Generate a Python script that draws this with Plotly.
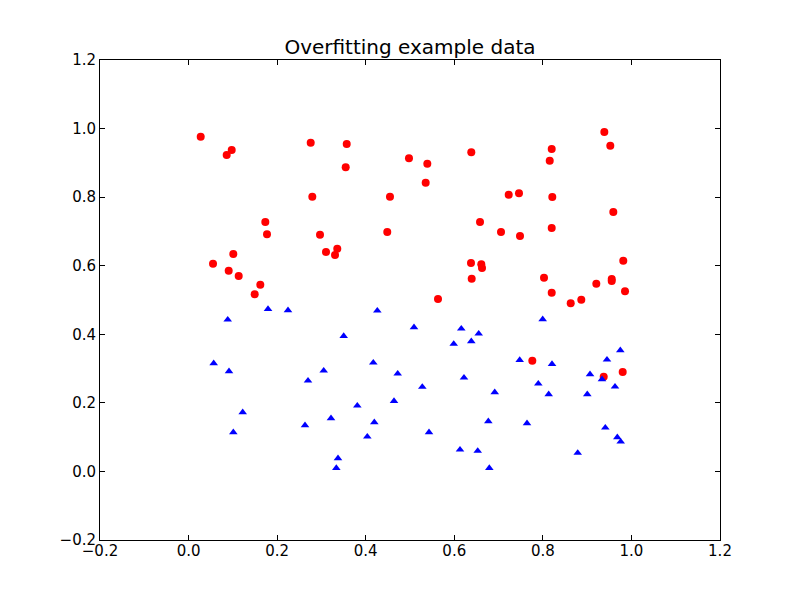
import plotly.graph_objects as go

red_x = [0.0274, 0.0861, 0.0974, 0.2758, 0.3571, 0.3548, 0.2794, 0.1733, 0.1771, 0.2968,
         0.3103, 0.3358, 0.3307, 0.0552, 0.1010, 0.0906, 0.1132, 0.1620, 0.1493, 0.4977,
         0.5391, 0.5354, 0.4548, 0.4487, 0.5632, 0.6384, 0.7229, 0.7461, 0.6581, 0.7055,
         0.7484, 0.6377, 0.6610, 0.6626, 0.6393, 0.8026, 0.8200, 0.8200, 0.8213, 0.8200,
         0.8155, 0.9388, 0.9523, 0.9591, 0.9816, 0.9555, 0.9555, 0.9855, 0.9207, 0.8629,
         0.8868, 0.7762, 0.9374, 0.9803]
red_y = [0.9763, 0.9229, 0.9375, 0.9588, 0.9550, 0.8870, 0.8013, 0.7275, 0.6916, 0.6905,
         0.6400, 0.6496, 0.6313, 0.6059, 0.6342, 0.5855, 0.5700, 0.5446, 0.5166, 0.9133,
         0.8975, 0.8421, 0.8013, 0.6983, 0.5029, 0.9308, 0.8071, 0.8112, 0.7275, 0.6983,
         0.6867, 0.6079, 0.6041, 0.5933, 0.5621, 0.5650, 0.5213, 0.7100, 0.8004, 0.9404,
         0.9063, 0.9900, 0.9500, 0.7567, 0.6146, 0.5613, 0.5554, 0.5254, 0.5475, 0.4904,
         0.5009, 0.3230, 0.2763, 0.2900]

blue_x = [0.1794, 0.2245, 0.0884, 0.4262, 0.3503, 0.0567, 0.0913, 0.4171, 0.3051, 0.2697,
          0.4722, 0.4639, 0.3810, 0.1222, 0.3216, 0.4194, 0.1010, 0.2629, 0.4036, 0.3374,
          0.3336, 0.7996, 0.5090, 0.6158, 0.6551, 0.5987, 0.6384, 0.9749, 0.9448, 0.7477,
          0.8207, 0.9065, 0.9335, 0.6219, 0.5278, 0.7897, 0.9629, 0.8132, 0.9003, 0.6913,
          0.6768, 0.7642, 0.5429, 0.9410, 0.9681, 0.9758, 0.6129, 0.6529, 0.8787, 0.6791]
blue_y = [0.4737, 0.4700, 0.4425, 0.4688, 0.3950, 0.3154, 0.2920, 0.3171, 0.2938, 0.2646,
          0.2850, 0.2054, 0.1917, 0.1725, 0.1550, 0.1433, 0.1141, 0.1345, 0.1013, 0.0383,
          0.0100, 0.4437, 0.4204, 0.4163, 0.4017, 0.3717, 0.3795, 0.3533, 0.3259, 0.3250,
          0.3133, 0.2833, 0.2687, 0.2734, 0.2463, 0.2559, 0.2471, 0.2250, 0.2250, 0.2308,
          0.1462, 0.1404, 0.1141, 0.1275, 0.0995, 0.0867, 0.0634, 0.0596, 0.0538, 0.0100]

tick_vals = [-0.2, 0.0, 0.2, 0.4, 0.6, 0.8, 1.0, 1.2]
tick_text = ["\u22120.2", "0.0", "0.2", "0.4", "0.6", "0.8", "1.0", "1.2"]

fig = go.Figure()
fig.add_trace(go.Scatter(x=red_x, y=red_y, mode="markers",
                         marker=dict(symbol="circle", color="#ff0000", size=8,
                                     line=dict(width=0))))
fig.add_trace(go.Scatter(x=blue_x, y=blue_y, mode="markers",
                         marker=dict(symbol="triangle-up", color="#0000ff", size=7.5,
                                     line=dict(width=0))))

axis_common = dict(range=[-0.2, 1.2], tickvals=tick_vals, ticktext=tick_text,
                   showgrid=False, zeroline=False, showline=True, linecolor="black",
                   linewidth=1, mirror="ticks", ticks="inside", ticklen=5,
                   tickcolor="black", tickwidth=1,
                   tickfont=dict(family="DejaVu Sans", size=15, color="black"))

fig.update_layout(
    width=800, height=600,
    margin=dict(l=92, r=88, t=52, b=68),
    paper_bgcolor="white", plot_bgcolor="white",
    showlegend=False,
    title=dict(text="Overfitting example data", x=0.5025, xanchor="center",
               y=1 - 39 / 600, yanchor="middle",
               font=dict(family="DejaVu Sans", size=20, color="black")),
    xaxis=dict(axis_common, ticklabelstandoff=-3),
    yaxis=axis_common,
)

fig.write_html("out.html")
